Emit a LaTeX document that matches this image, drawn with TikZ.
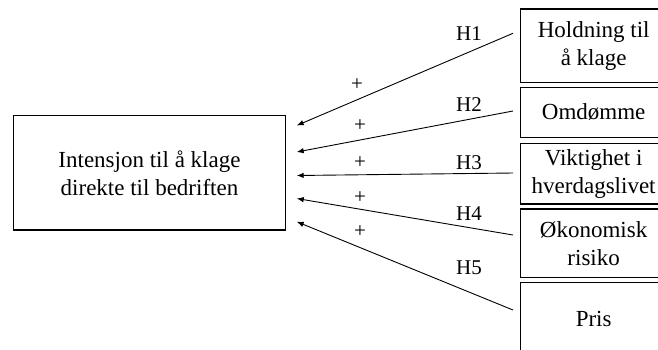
\documentclass[tikz,border=0pt]{standalone}
\usepackage{fontspec}
\setmainfont{Liberation Serif}
\usetikzlibrary{arrows.meta}
\begin{document}
\begin{tikzpicture}[x=1pt,y=-1pt,
  box/.style={draw=black,line width=1.3pt,inner sep=0pt,align=center,
    font=\fontsize{23}{28}\selectfont},
  rbox/.style={box,anchor=north west,minimum width=146pt},
  lbl/.style={inner sep=0pt,font=\fontsize{21}{24}\selectfont},
  arr/.style={draw=black,line width=0.9pt,-{Latex[length=7pt,width=5.5pt]}}]
\useasboundingbox (0,0) rectangle (658,349);
\begin{scope}
\clip (0,0) rectangle (658,349);
\node[box,minimum width=272.4pt,minimum height=114.3pt] (main) at (149.5,172.9)
  {Intensjon til å klage\\direkte til bedriften};
\node[rbox,minimum height=73.4pt] (b1) at (520,8.3) {Holdning til\\å klage};
\node[rbox,minimum height=50pt] (b2) at (520,86.7) {Omdømme};
\node[rbox,minimum height=60.6pt] (b3) at (520,142.7) {Viktighet i\\hverdagslivet};
\node[rbox,minimum height=68.4pt] (b4) at (520,208.3) {Økonomisk\\risiko};
\node[rbox,minimum height=73pt] (b5) at (520,281.7) {Pris};
\end{scope}
\coordinate (s1) at (513,33.3);
\coordinate (s2) at (513,111);
\coordinate (s3) at (513,173);
\coordinate (s4) at (513,235);
\coordinate (s5) at (513,310);
\coordinate (e1) at (296.7,125.5);
\coordinate (e2) at (296.7,152);
\coordinate (e3) at (296.7,175.5);
\coordinate (e4) at (296.7,198.5);
\coordinate (e5) at (296.7,221.7);
\foreach \i in {1,...,5} {\draw[arr] (s\i) -- (e\i);}
\node[lbl] (h1) at (469,33.3) {H1};
\node[lbl] (h2) at (469,105) {H2};
\node[lbl] (h3) at (469,163) {H3};
\node[lbl] (h4) at (469,214) {H4};
\node[lbl] (h5) at (469,267.5) {H5};
\node[lbl] (p1) at (357,85) {+};
\node[lbl] (p2) at (360,126) {+};
\node[lbl] (p3) at (360,162.7) {+};
\node[lbl] (p4) at (360,197.3) {+};
\node[lbl] (p5) at (360,231.7) {+};
\end{tikzpicture}
\end{document}
